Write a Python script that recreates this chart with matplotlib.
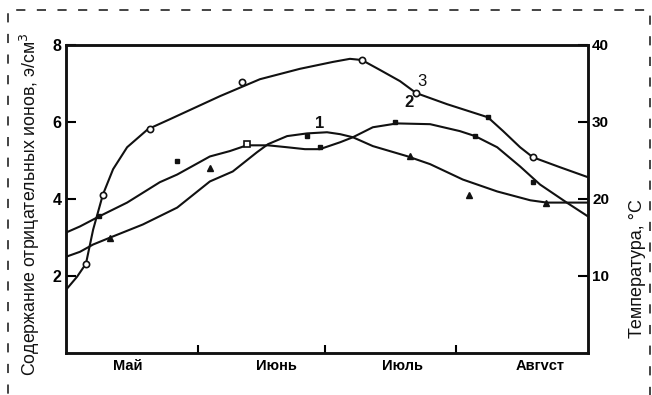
import matplotlib.pyplot as plt
from matplotlib.patches import Rectangle

# days counted from 1 May, values in ions per cm3 (left scale)
curve1_day = [0, 3.3, 6.4, 10.4, 18.1, 26.2, 33.9, 39.3, 45.0, 47.6, 52.1, 56.8, 61.5,
              64.6, 67.6, 72.3, 80.3, 85.8, 93.5, 101.6, 109.4, 113.3, 123]
curve1_val = [2.49, 2.62, 2.81, 2.99, 3.33, 3.77, 4.45, 4.71, 5.21, 5.42, 5.63, 5.70, 5.73,
              5.68, 5.60, 5.37, 5.11, 4.90, 4.50, 4.19, 3.96, 3.90, 3.90]

curve2_day = [0, 3.3, 7.8, 14.4, 22.1, 26.2, 33.9, 38.6, 42.6, 47.6, 52.1, 56.3, 59.8,
              64.6, 67.6, 72.3, 78.0, 85.8, 92.8, 96.4, 101.6, 107.0, 111.7, 118.0, 123]
curve2_val = [3.12, 3.28, 3.54, 3.90, 4.43, 4.63, 5.10, 5.24, 5.39, 5.39, 5.34, 5.29, 5.29,
              5.47, 5.60, 5.86, 5.96, 5.94, 5.76, 5.63, 5.34, 4.84, 4.37, 3.90, 3.54]

curve3_day = [0, 2.6, 4.7, 6.4, 8.7, 11.1, 14.4, 19.3, 24.5, 36.3, 45.7, 55.1, 62.9,
              66.9, 69.7, 74.0, 78.7, 82.5, 89.8, 99.4, 103.0, 107.0, 110.0, 116.4, 123]
curve3_val = [1.63, 1.97, 2.31, 3.20, 4.11, 4.77, 5.34, 5.81, 6.07, 6.67, 7.11, 7.38, 7.56,
              7.64, 7.61, 7.35, 7.06, 6.75, 6.46, 6.12, 5.76, 5.34, 5.08, 4.82, 4.56]

# measured points
tri_day = [10.4, 33.9, 81.1, 95.0, 113.1]
tri_val = [2.99, 4.79, 5.11, 4.11, 3.90]
sq_day = [7.8, 26.2, 56.8, 59.8, 77.5, 96.4, 99.4, 110.0]
sq_val = [3.54, 4.97, 5.64, 5.34, 5.99, 5.64, 6.12, 4.43]
opensq_day = [42.6]
opensq_val = [5.42]
circ_day = [4.7, 8.7, 19.8, 41.5, 69.7, 82.5, 110.0]
circ_val = [2.31, 4.11, 5.81, 7.04, 7.62, 6.75, 5.08]

month_bounds = [31, 61, 92]
month_pos = [14.6, 49.7, 79.2, 111.7]
month_names = ['Май', 'Июнь', 'Июль', 'Авгvст']
left_ticks = [2, 4, 6, 8]
right_ticks = [10, 20, 30, 40]

plt.rcParams['font.family'] = ['Liberation Sans', 'DejaVu Sans']

fig = plt.figure(figsize=(6.52, 3.95), dpi=100)
ax = fig.add_axes([66/652, 1-352.5/395, (588-66)/652, (352.5-45)/395])
ax.set_xlim(0, 123)
ax.set_ylim(0, 8)
ax2 = ax.twinx()
ax2.set_ylim(0, 40)

c = '#111111'
for d, v in [(curve1_day, curve1_val), (curve2_day, curve2_val), (curve3_day, curve3_val)]:
    ax.plot(d, v, color=c, lw=1.5, solid_capstyle='round', solid_joinstyle='round')

ax.plot(tri_day, tri_val, '^', color=c, ms=4.5, ls='none')
ax.plot(sq_day, sq_val, 's', color=c, ms=3.5, ls='none')
ax.plot(opensq_day, opensq_val, 's', mfc='white', mec=c, mew=1.2, ms=4, ls='none')
ax.plot(circ_day, circ_val, 'o', mfc='white', mec=c, mew=1.2, ms=4.5, ls='none')

ax.text(59.8, 5.95, '1', fontsize=12, fontweight='bold', ha='center', va='center', color=c)
ax.text(80.8, 6.5, '2', fontsize=12, fontweight='bold', ha='center', va='center', color=c)
ax.text(83.9, 7.05, '3', fontsize=12, ha='center', va='center', color=c)

for a in (ax, ax2):
    for s in a.spines.values():
        s.set_linewidth(1.8)
        s.set_color(c)

ax.set_xticks(month_bounds)
ax.set_xticklabels([])
ax.set_xticks(month_pos, minor=True)
ax.set_xticklabels(month_names, minor=True, fontsize=10.5, fontweight='bold')
ax.tick_params(axis='x', which='major', direction='in', length=6, width=1.5)
ax.tick_params(axis='x', which='minor', length=0, pad=5)

ax.set_yticks(left_ticks)
ax.set_yticklabels([str(t) for t in left_ticks], fontsize=11.5, fontweight='bold')
ax.tick_params(axis='y', direction='in', length=7, width=1.5, pad=3)
ax2.set_yticks(right_ticks)
ax2.set_yticklabels([str(t) for t in right_ticks], fontsize=11, fontweight='bold')
ax2.tick_params(axis='y', direction='in', length=7, width=1.5, pad=3)

fig.text(30/652, 1-204/395, 'Содержание отрицательных ионов, э/см$^3$', rotation=90,
         fontsize=12.8, ha='center', va='center', color=c)
fig.text(638/652, 1-269/395, 'Температура, °C', rotation=90,
         fontsize=13, ha='center', va='center', color=c)

# dashed frame around the figure
fig.patches.append(Rectangle((8/652, -0.05), 642/652, 1.05 - 10/395, transform=fig.transFigure,
                             fill=False, ec=c, lw=1.1, ls=(0, (6, 7.5))))

fig.savefig('out.png', dpi=100)
